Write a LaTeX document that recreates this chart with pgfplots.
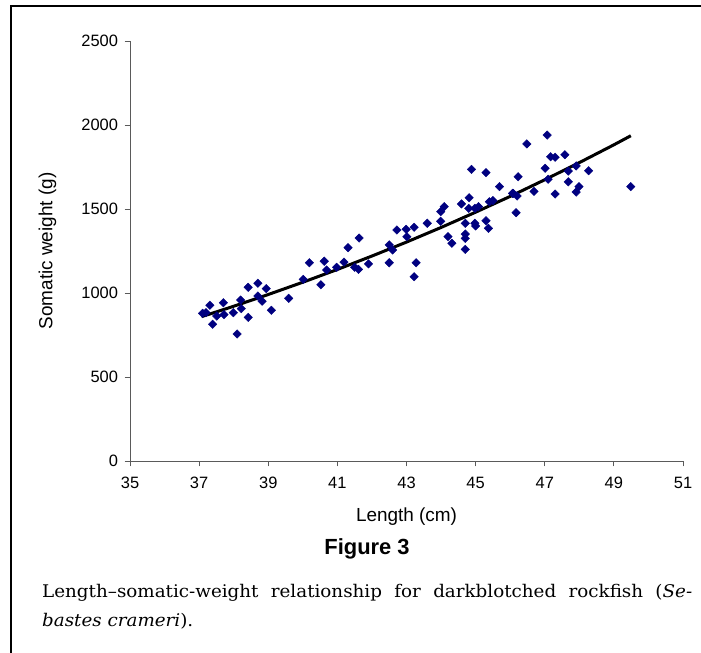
\documentclass[border=0pt]{standalone}
\usepackage{fontspec}
\setmainfont{Liberation Sans}
\newfontfamily\capfont[FakeStretch=1.05]{DejaVu Serif}
\usepackage{pgfplots}
\pgfplotsset{compat=1.18}
\definecolor{navy}{RGB}{0,0,128}
\definecolor{axgray}{RGB}{90,90,90}

\begin{document}
\begin{tikzpicture}[x=1bp,y=1bp]
\useasboundingbox (0,0) rectangle (701,653);
\draw[line width=1.6bp] (11,0) -- (11,647) -- (701,647);
\begin{axis}[
  at={(130bp,192bp)}, anchor=south west,
  scale only axis, width=553bp, height=420bp,
  xmin=35, xmax=51, ymin=0, ymax=2500,
  xtick={35,37,...,51}, ytick={0,500,...,2500},
  axis lines*=left,
  axis line style={axgray, line width=0.9bp},
  tick style={axgray, line width=0.9bp},
  tick align=outside, major tick length=5.5bp,
  /pgf/number format/assume math mode=true,
  /pgf/number format/1000 sep={},
  ticklabel style={font=\fontsize{16.5}{16.5}\selectfont},
  xticklabel style={yshift=-7bp},
  yticklabel style={xshift=-3bp},
  label style={font=\fontsize{19}{19}\selectfont},
  xlabel={Length (cm)},
  ylabel={Somatic weight (g)},
  xlabel style={at={(axis description cs:0.5,-0.133)}, anchor=center},
  ylabel style={at={(axis description cs:-0.149,0.5)}, anchor=center},
  clip=false,
]
\addplot[only marks, mark=square*, mark size=3bp, mark options={rotate=45, fill=navy, draw=navy}] coordinates {
(37.10,879) (37.20,883) (37.31,927) (37.39,814) (37.51,863) (37.70,942) (37.72,871)
(37.99,883) (38.10,756) (38.20,958) (38.22,907) (38.42,1034) (38.42,855) (38.70,1058)
(38.70,982) (38.82,951) (38.94,1026) (39.09,897) (39.59,968) (40.01,1081) (40.19,1180)
(40.52,1049) (40.62,1189) (40.69,1137) (40.98,1153) (41.19,1184) (41.31,1270) (41.50,1153)
(41.61,1141) (41.63,1327) (41.90,1173) (42.50,1286) (42.60,1256) (42.50,1180) (42.72,1375)
(42.99,1379) (43.01,1335) (43.22,1391) (43.28,1180) (43.22,1097) (43.60,1415) (43.99,1427)
(43.99,1484) (44.09,1514) (44.20,1335) (44.31,1296) (44.59,1530) (44.70,1415) (44.70,1351)
(44.70,1325) (44.70,1260) (44.80,1504) (44.98,1415) (45.00,1399) (45.08,1514) (45.30,1430)
(45.37,1385) (45.40,1543) (46.17,1478) (44.88,1736) (45.30,1716) (45.69,1633) (44.81,1567)
(45.50,1550) (44.98,1504) (46.07,1593) (46.23,1692) (46.48,1887) (47.07,1940) (47.17,1811)
(47.30,1808) (47.58,1823) (47.01,1742) (47.10,1677) (47.68,1726) (47.91,1756) (48.27,1728)
(47.68,1662) (46.09,1593) (46.20,1577) (46.69,1605) (47.30,1589) (47.91,1601) (47.99,1633)
(49.49,1633)
};
\addplot[black, line width=3bp, no marks] coordinates {
(37.07,859) (38,921) (39,991) (40,1064) (41,1140) (42,1220) (43,1303) (44,1390)
(45,1481) (46,1575) (47,1674) (48,1776) (49,1882) (49.49,1936)
};
\end{axis}
\node[font=\fontsize{22}{22}\selectfont\bfseries] at (367,104) {Figure 3};
\node[anchor=base west, inner sep=0pt, font=\capfont\fontsize{17.5}{17.5}\selectfont] at (42,55)
  {\makebox[650bp][s]{Length–somatic-weight relationship for darkblotched rockfish (\textit{Se-}}};
\node[anchor=base west, inner sep=0pt, font=\capfont\fontsize{17.5}{17.5}\selectfont] at (42,26)
  {\textit{bastes crameri}).};
\end{tikzpicture}
\end{document}
